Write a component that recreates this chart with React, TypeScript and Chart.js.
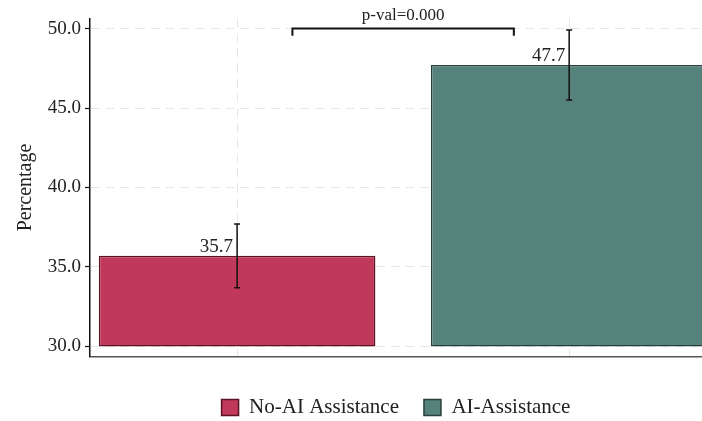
import React, { useEffect, useRef } from "react";
import { Chart, registerables } from "chart.js";

Chart.register(...registerables);

const categories = ["No-AI Assistance", "AI-Assistance"];
const means = [35.7, 47.7];
const errors = [2.0, 2.2];
const baseValue = 30;
const yTickValues = [30, 35, 40, 45, 50];
const pValueLabel = "p-val=0.000";
const bracketLevel = 50.0;
const bracketDrop = 0.45;
const bracketInset = 1 / 6;

const fillColors = ["#C0395A", "#55837C"];
const edgeColors = ["#5B1326", "#2A3F3C"];
const FONT = "'Liberation Serif', 'Times New Roman', serif";

const annotationPlugin = {
  id: "annotations",
  afterDatasetsDraw(chart: any) {
    const { ctx } = chart;
    const x = chart.scales.x;
    const y = chart.scales.y;
    ctx.save();
    ctx.strokeStyle = "#111";
    ctx.fillStyle = "#222";
    ctx.lineWidth = 1.5;
    means.forEach((m, i) => {
      const cx = x.getPixelForValue(i);
      const top = y.getPixelForValue(m + errors[i]);
      const bot = y.getPixelForValue(m - errors[i]);
      ctx.beginPath();
      ctx.moveTo(cx, top);
      ctx.lineTo(cx, bot);
      ctx.moveTo(cx - 3, top);
      ctx.lineTo(cx + 3, top);
      ctx.moveTo(cx - 3, bot);
      ctx.lineTo(cx + 3, bot);
      ctx.stroke();
      ctx.font = `19px ${FONT}`;
      ctx.textAlign = "right";
      ctx.textBaseline = "alphabetic";
      ctx.fillText(m.toFixed(1), cx - 4, y.getPixelForValue(m) - 4);
    });
    // significance bracket
    const x1 = x.getPixelForValue(0 + bracketInset);
    const x2 = x.getPixelForValue(1 - bracketInset);
    const yb = y.getPixelForValue(bracketLevel);
    const yd = y.getPixelForValue(bracketLevel - bracketDrop);
    ctx.lineWidth = 2;
    ctx.strokeStyle = "#111";
    ctx.beginPath();
    ctx.moveTo(x1, yd);
    ctx.lineTo(x1, yb);
    ctx.lineTo(x2, yb);
    ctx.lineTo(x2, yd);
    ctx.stroke();
    ctx.font = `17px ${FONT}`;
    ctx.textAlign = "center";
    ctx.textBaseline = "alphabetic";
    ctx.fillText(pValueLabel, (x1 + x2) / 2, yb - 9);
    ctx.restore();
  },
};

export default function App() {
  const canvasRef = useRef<HTMLCanvasElement | null>(null);

  useEffect(() => {
    document.body.style.margin = "0";
    const canvas = canvasRef.current;
    if (!canvas) return;
    const chart = new Chart(canvas, {
      type: "bar",
      data: {
        datasets: categories.map((c, i) => ({
          label: c,
          data: [{ x: i, y: [baseValue, means[i]] }] as any,
          backgroundColor: fillColors[i],
          borderColor: edgeColors[i],
          borderWidth: 1.5,
          borderSkipped: false,
          grouped: false,
          categoryPercentage: 1,
          barPercentage: 0.833,
        })),
      },
      options: {
        animation: false,
        responsive: false,
        devicePixelRatio: 1,
        layout: { padding: { top: 18.5, left: 0, right: 0, bottom: -7 } },
        plugins: {
          legend: {
            position: "bottom",
            fullSize: false,
            labels: {
              boxWidth: 17,
              boxHeight: 16,
              padding: 25,
              color: "#222",
              font: { family: FONT, size: 21 },
            },
          },
          tooltip: { enabled: false },
        },
        scales: {
          x: {
            type: "linear",
            offset: false,
            min: -0.443,
            max: 1.4,
            afterBuildTicks: (scale: any) => {
              scale.ticks = categories.map((_, i) => ({ value: i }));
            },
            afterFit: (scale: any) => {
              scale.height = 15.5;
            },
            ticks: { display: false },
            grid: { color: "#e6e6e6", drawTicks: false, lineWidth: 1, offset: false },
            border: { color: "#555", width: 1.5, dash: [9, 6] },
          },
          y: {
            type: "linear",
            min: 29.37,
            max: 50.63,
            afterBuildTicks: (scale: any) => {
              scale.ticks = yTickValues.map((v) => ({ value: v }));
            },
            afterFit: (scale: any) => {
              scale.width = 90;
            },
            ticks: {
              color: "#222",
              padding: 4,
              font: { family: FONT, size: 19 },
              callback: (v: any) => Number(v).toFixed(1),
            },
            grid: {
              color: "#e6e6e6",
              lineWidth: 1,
              tickLength: 5,
              tickColor: "#111",
              tickWidth: 1.2,
            },
            border: { color: "#111", width: 1.5, dash: [9, 6] },
            title: {
              display: true,
              text: "Percentage",
              color: "#222",
              font: { family: FONT, size: 20 },
              padding: { top: 14, bottom: 0 },
            },
          },
        },
      },
      plugins: [annotationPlugin],
    });
    return () => chart.destroy();
  }, []);

  return (
    <div style={{ width: 702, height: 421 }}>
      <canvas ref={canvasRef} width={702} height={421} style={{ display: "block" }} />
    </div>
  );
}
